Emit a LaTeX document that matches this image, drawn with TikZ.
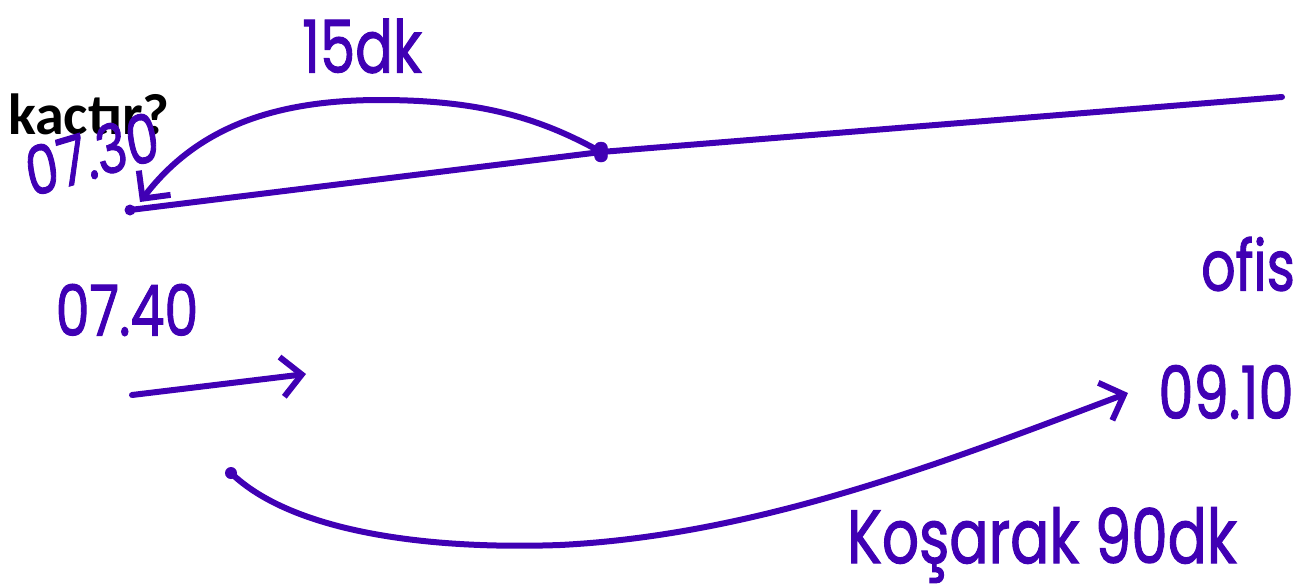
\documentclass[tikz,border=0pt]{standalone}
\usepackage{fontspec}
\setmainfont{Poppins}[FakeBold=1.6]
\newfontfamily\printfont{Carlito}
\usetikzlibrary{arrows.meta}
\definecolor{pen}{RGB}{64,0,180}

\begin{document}
\begin{tikzpicture}[x=1pt, y=-1pt,
  ink/.style={draw=pen, line width=6pt, line cap=round, line join=round},
  arr/.style={ink, -{Straight Barb[length=20pt, width=40pt, line width=6pt]}},
  hand/.style={text=pen, inner sep=0pt, yscale=1.3, font=\fontsize{#1}{#1}\selectfont}
]
  \useasboundingbox (0,0) rectangle (1304,587);

  % the road
  \coordinate (home) at (130,210);
  \coordinate (far) at (1282,97);
  \node[fill=pen, circle, minimum size=11pt, inner sep=0pt] (homedot) at (home) {};
  \node[fill=pen, draw=pen, inner sep=0pt, minimum width=13pt, minimum height=20pt,
        rounded corners=6pt] (mid) at (601,152) {};
  \draw[ink] (home) -- (mid.center) -- (far);

  % back 15 minutes
  \draw[arr] (mid.center) .. controls (540,118) and (480,100) .. (380,100)
    .. controls (270,100) and (195,130) .. (140,202);
  \node[hand=56] (fifteen) at (362,46) {15dk};

  \node[inner sep=0pt, font=\printfont\fontsize{58}{58}\selectfont\bfseries,
        anchor=west] (question) at (8,114) {kactır?};
  \node[hand=52, rotate=13] (first) at (92,154) {07.30};
  \node[hand=54] (second) at (127,310) {07.40};

  % forward
  \coordinate (go) at (132,395);
  \coordinate (goend) at (306,374);
  \draw[arr] (go) -- (goend);

  % run to the office
  \node[fill=pen, circle, minimum size=12pt, inner sep=0pt] (run) at (231,473) {};
  \coordinate (office) at (1128,393);
  \draw[arr] (run.center) .. controls (290,530) and (420,550) .. (560,545)
    .. controls (760,535) and (950,460) .. (office);
  \node[hand=54] (ofis) at (1248,264) {ofis};
  \node[hand=56] (arrive) at (1226,392) {09.10};
  \node[hand=58] (run label) at (1042,545) {Koşarak 90dk};
\end{tikzpicture}
\end{document}
